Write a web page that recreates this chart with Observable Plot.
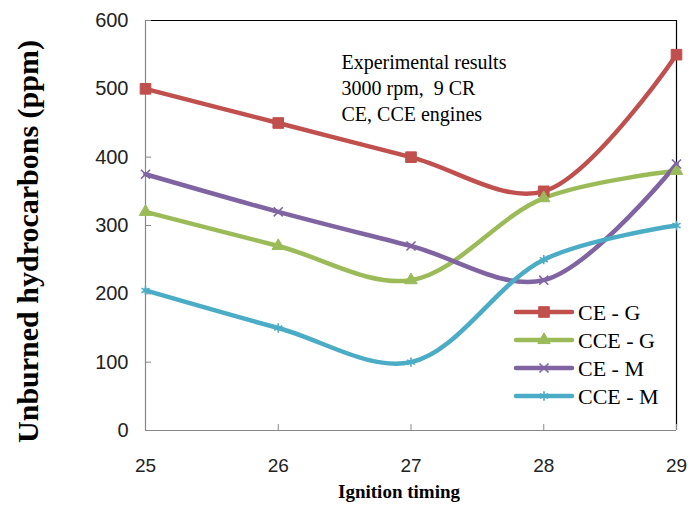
<!DOCTYPE html>
<html><head><meta charset="utf-8">
<script src="https://cdn.jsdelivr.net/npm/d3@7"></script>
<script src="https://cdn.jsdelivr.net/npm/@observablehq/plot@0.6"></script>
<style>
body{margin:0;background:#fff;}
#chart{position:relative;width:688px;height:510px;}
#chart svg{position:absolute;left:0;top:0;}
</style></head><body><div id="chart"></div>
<script>
const timing = [25, 26, 27, 28, 29];
const seriesNames = ["CE - G", "CCE - G", "CE - M", "CCE - M"];
const ceG  = [500, 450, 400, 350, 550];
const cceG = [320, 270, 220, 340, 380];
const ceM  = [375, 320, 270, 220, 390];
const cceM = [205, 150, 100, 250, 300];
const colors = ["#C0504D", "#9BBB59", "#8064A2", "#4BACC6"];
const symbols = ["square", "triangle", "times", "asterisk"];
const markerR = [6, 4.6, 4.2, 4.4];
const yTicks = [0, 100, 200, 300, 400, 500, 600];
const xTicks = [25, 26, 27, 28, 29];
const noteText = "Experimental results\n3000 rpm,  9 CR\nCE, CCE engines";
const yTitle = "Unburned hydrocarbons (ppm)";
const xTitle = "Ignition timing";

const allValues = [ceG, cceG, ceM, cceM];
const data = allValues.flatMap((vals, si) =>
  vals.map((v, i) => ({series: seriesNames[si], x: timing[i], y: v})));

const font = "Liberation Serif, Times New Roman, serif";
const tickFont = "Liberation Sans, Arial, sans-serif";

const chart = Plot.plot({
  width: 688, height: 510,
  marginLeft: 145, marginRight: 12, marginTop: 20, marginBottom: 80,
  x: {domain: [25, 29]},
  y: {domain: [0, 600]},
  color: {domain: seriesNames, range: colors},
  symbol: {domain: seriesNames, range: symbols},
  style: {fontFamily: font, fontSize: "20px", color: "#000", background: "#fff"},
  marks: [
    Plot.ruleY([600], {stroke: "#000", strokeWidth: 1.2}),
    Plot.ruleX([29], {stroke: "#000", strokeWidth: 1.2}),
    Plot.ruleX([25], {stroke: "#888", strokeWidth: 1.2}),
    Plot.ruleY([0], {stroke: "#888", strokeWidth: 1.2}),
    Plot.axisY({ticks: yTicks, tickSize: -6, tickPadding: 23, tickFormat: d => d, label: null, stroke: "#888", strokeOpacity: 1, fontFamily: tickFont, fontSize: 20, fill: "#222"}),
    Plot.axisX({ticks: xTicks, tickSize: -6, tickPadding: 34, tickFormat: d => d, label: null, stroke: "#888", strokeOpacity: 1, fontFamily: tickFont, fontSize: 19, fill: "#222"}),
    Plot.line(data, {x: "x", y: "y", z: "series", stroke: "series", strokeWidth: 4.5, curve: "catmull-rom"}),
    ...seriesNames.map((name, i) =>
      Plot.dot(data, {filter: d => d.series === name, x: "x", y: "y", symbol: "series", fill: "series", stroke: "series", r: markerR[i], strokeWidth: (i < 2 ? 1 : 1.6)})),
    Plot.text([noteText], {frameAnchor: "top-left", dx: 196, dy: 30, lineAnchor: "top", textAnchor: "start", lineHeight: 1.3, fontSize: 20}),
    Plot.text([yTitle], {frameAnchor: "left", textAnchor: "middle", dx: -117, dy: 16, rotate: -90, fontWeight: "bold", fontSize: 30}),
    Plot.text([xTitle], {frameAnchor: "bottom", dx: -12, dy: 67, fontWeight: "bold", fontSize: 19})
  ]
});
document.getElementById("chart").appendChild(chart);

// legend inside the plot area
const leg = d3.select("#chart").append("svg")
  .attr("width", 688).attr("height", 510)
  .style("pointer-events", "none");
const symMap = {square: d3.symbolSquare, triangle: d3.symbolTriangle, times: d3.symbolTimes, asterisk: d3.symbolAsterisk};
seriesNames.forEach((name, i) => {
  const y = 312 + i * 28;
  const g = leg.append("g");
  g.append("line").attr("x1", 516).attr("x2", 572).attr("y1", y).attr("y2", y)
    .attr("stroke", colors[i]).attr("stroke-width", 4.5).attr("stroke-linecap", "round");
  const filled = symbols[i] === "square" || symbols[i] === "triangle";
  g.append("path").attr("transform", `translate(544,${y})`)
    .attr("d", d3.symbol(symMap[symbols[i]], Math.PI * markerR[i] * markerR[i])())
    .attr("fill", filled ? colors[i] : "none")
    .attr("stroke", colors[i]).attr("stroke-width", filled ? 1 : 1.6);
  g.append("text").attr("x", 578).attr("y", y).attr("dy", "0.35em")
    .attr("font-family", font).attr("font-size", 22).text(name);
});
</script></body></html>
